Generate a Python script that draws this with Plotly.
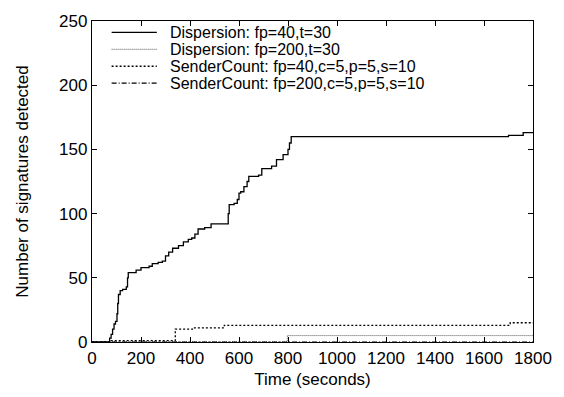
import plotly.graph_objects as go

# Dispersion: fp=40,t=30
disp40_t = [0, 66, 72, 78, 84, 90, 96, 102, 105, 108, 115, 125, 140, 145, 148, 180, 200, 233, 246,
            270, 287, 300, 313, 329, 353, 373, 393, 407, 420, 433, 460, 486, 549, 556, 560, 580,
            593, 600, 607, 620, 633, 640, 680, 693, 733, 753, 780, 800, 806, 813, 1700, 1760, 1800]
disp40_y = [0, 0, 3, 6, 10, 14, 16, 22, 30, 37, 40, 41, 43, 50, 54, 56, 58, 59, 61,
            62, 63, 67, 70, 73, 75, 78, 80, 81, 84, 88, 89, 92, 92, 100, 107, 108,
            111, 116, 117, 121, 125, 129, 130, 135, 137, 142, 146, 150, 155, 160, 161, 163, 163]

# Dispersion: fp=200,t=30
disp200_t = [0, 797, 1800]
disp200_y = [0, 5, 5]

# SenderCount: fp=40,c=5,p=5,s=10
sc40_t = [0, 75, 340, 410, 540, 1707, 1800]
sc40_y = [0, 1, 10, 11, 13, 15, 15]

# SenderCount: fp=200,c=5,p=5,s=10
sc200_t = [0, 1800]
sc200_y = [0, 0]

names = ["Dispersion: fp=40,t=30", "Dispersion: fp=200,t=30",
         "SenderCount: fp=40,c=5,p=5,s=10", "SenderCount: fp=200,c=5,p=5,s=10"]

x_ticks = list(range(0, 1801, 200))
y_ticks = list(range(0, 251, 50))

FONT = "Liberation Sans, Arial, Helvetica, sans-serif"
FS = 17
LEG_FS = 16

styles = [
    dict(color="black", width=1.3, dash="solid"),
    dict(color="#555555", width=1, dash="1px,1px"),
    dict(color="black", width=1.3, dash="2px,2px"),
    dict(color="black", width=1.1, dash="5px,2px,1px,2px"),
]
series = [(disp40_t, disp40_y), (disp200_t, disp200_y), (sc40_t, sc40_y), (sc200_t, sc200_y)]

fig = go.Figure()
for (t, y), name, st in zip(series, names, styles):
    fig.add_trace(go.Scatter(x=t, y=y, mode="lines", name=name,
                             line=dict(shape="hv", **st), showlegend=False))

# manual legend (gnuplot style), positioned in paper coordinates
leg_rows = [0.9644, 0.9118, 0.8591, 0.8065]
for name, st, yy in zip(names, styles, leg_rows):
    fig.add_shape(type="line", xref="paper", yref="paper", x0=0.0445, x1=0.147, y0=yy, y1=yy,
                  line=st)
    fig.add_annotation(xref="paper", yref="paper", x=0.1715, y=yy, text=name, showarrow=False,
                       xanchor="left", yanchor="middle",
                       font=dict(family=FONT, size=LEG_FS, color="black"))

axis_common = dict(showline=True, linecolor="black", linewidth=1.3, mirror="allticks",
                   ticks="inside", ticklen=5, tickcolor="black", tickwidth=1,
                   showgrid=False, zeroline=False,
                   tickfont=dict(family=FONT, size=FS, color="black"))

fig.update_layout(
    width=564, height=397,
    margin=dict(l=92, r=22, t=19, b=55),
    paper_bgcolor="white", plot_bgcolor="white",
    font=dict(family=FONT, size=FS, color="black"),
    xaxis=dict(range=[0, 1800], tickvals=x_ticks,
               title=dict(text="Time (seconds)", font=dict(size=FS), standoff=6),
               **axis_common),
    yaxis=dict(range=[0, 250], tickvals=y_ticks,
               title=dict(text="Number of signatures detected", font=dict(size=FS), standoff=26),
               **axis_common),
    showlegend=False,
)

fig.write_html("out.html")
